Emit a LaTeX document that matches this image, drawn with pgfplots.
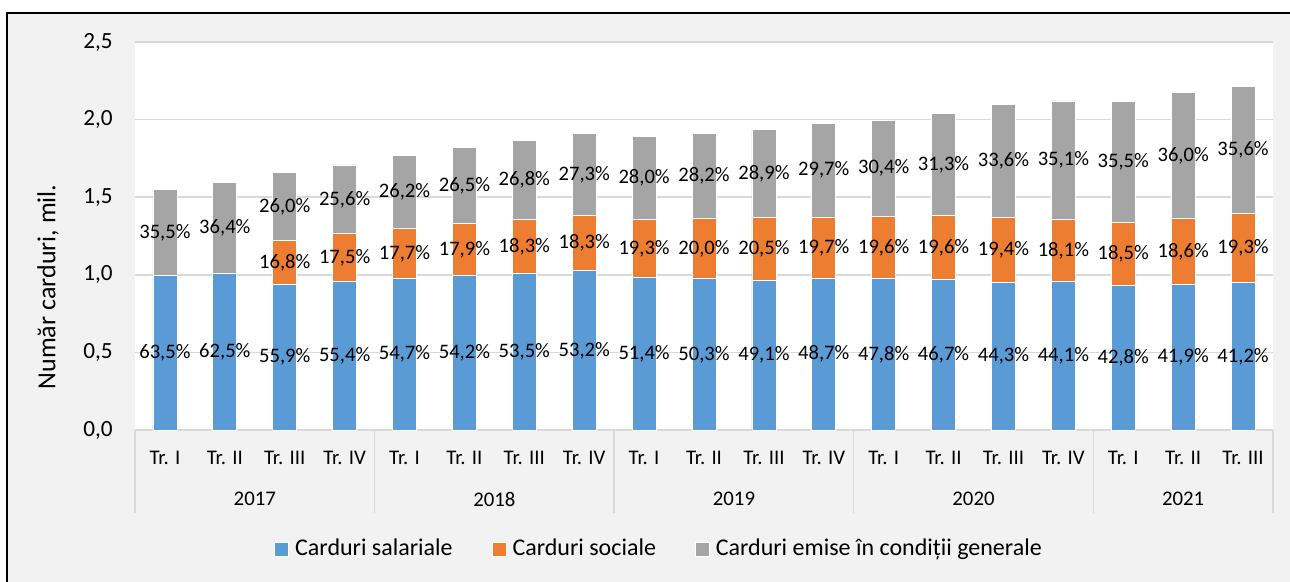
\documentclass[border=0pt]{standalone}
\usepackage{fontspec}
\setmainfont{Carlito}
\usepackage{pgfplots}
\usepackage{pgfplotstable}
\pgfplotsset{compat=1.18}

\definecolor{cblue}{HTML}{5B9BD5}
\definecolor{corange}{HTML}{ED7D31}
\definecolor{cgray}{HTML}{A5A5A5}
\definecolor{gridc}{HTML}{D9D9D9}
\definecolor{chartbg}{HTML}{F2F2F2}

% segment heights (mil. carduri) and shares
\pgfplotstableread{
x b o g lb lo lg
0 0.996 0.000 0.555 63,5\% {} 35,5\%
1 1.008 0.000 0.588 62,5\% {} 36,4\%
2 0.940 0.281 0.437 55,9\% 16,8\% 26,0\%
3 0.959 0.305 0.444 55,4\% 17,5\% 25,6\%
4 0.979 0.319 0.472 54,7\% 17,7\% 26,2\%
5 0.998 0.332 0.489 54,2\% 17,9\% 26,5\%
6 1.008 0.348 0.511 53,5\% 18,3\% 26,8\%
7 1.026 0.356 0.530 53,2\% 18,3\% 27,3\%
8 0.983 0.371 0.540 51,4\% 19,3\% 28,0\%
9 0.974 0.388 0.550 50,3\% 20,0\% 28,2\%
10 0.963 0.404 0.570 49,1\% 20,5\% 28,9\%
11 0.976 0.397 0.601 48,7\% 19,7\% 29,7\%
12 0.974 0.404 0.619 47,8\% 19,6\% 30,4\%
13 0.970 0.412 0.656 46,7\% 19,6\% 31,3\%
14 0.951 0.420 0.725 44,3\% 19,4\% 33,6\%
15 0.959 0.397 0.764 44,1\% 18,1\% 35,1\%
16 0.934 0.403 0.778 42,8\% 18,5\% 35,5\%
17 0.940 0.422 0.811 41,9\% 18,6\% 36,0\%
18 0.949 0.445 0.822 41,2\% 19,3\% 35,6\%
}\cards

\pgfplotsset{
  sq/.style={legend image code/.code={\fill[##1] (0pt,-3.5pt) rectangle (7pt,3.5pt);}},
  frame/.style={scale only axis, width=569pt, height=194pt,
    xmin=-0.5, xmax=18.5, ymin=0, ymax=2.5, enlarge x limits=false},
}

\begin{document}
\begin{tikzpicture}
\path[use as bounding box] (-67.5pt,-76pt) rectangle (577.5pt,215pt);
\fill[white] (-67.5pt,-76pt) rectangle (577.5pt,215pt);
\fill[chartbg] (-63.75pt,-76pt) rectangle (577.5pt,208.5pt);
\fill[white] (0,0) rectangle (569pt,194pt);
\draw[line width=1pt] (-63.75pt,-80pt) -- (-63.75pt,208.5pt) -- (580pt,208.5pt);

\begin{axis}[frame, clip=false,
  ybar stacked, bar width=12pt,
  axis line style={draw=none},
  ytick={0,0.5,1,1.5,2,2.5},
  yticklabel={\pgfmathprintnumber[fixed,fixed zerofill,precision=1,use comma,assume math mode=true]{\tick}},
  yticklabel style={font=\fontsize{11.6}{13}\selectfont, anchor=east, inner sep=0pt, xshift=-11pt},
  ymajorgrids, grid style={draw=gridc, line width=0.75pt},
  major tick length=0pt,
  xtick pos=bottom, ytick pos=left,
  xtick={0,...,18},
  xticklabels={Tr. I,Tr. II,Tr. III,Tr. IV,Tr. I,Tr. II,Tr. III,Tr. IV,Tr. I,Tr. II,Tr. III,Tr. IV,Tr. I,Tr. II,Tr. III,Tr. IV,Tr. I,Tr. II,Tr. III},
  xticklabel style={font=\fontsize{10.4}{12}\selectfont, anchor=center, yshift=-13.9pt},
  extra x ticks={-0.5,3.5,7.5,11.5,15.5,18.5},
  extra x tick labels={},
  extra x tick style={grid=none, major tick length=41.7pt, tick align=outside,
    tick style={draw=gridc, line width=0.75pt}},
  ylabel={Număr carduri, mil.},
  ylabel style={at={(axis description cs:-0.0765,0.3686)}, anchor=center, rotate=0,
    font=\fontsize{13}{15}\selectfont},
  legend columns=-1,
  legend style={at={(axis description cs:0.1221,-0.3067)}, anchor=west,
    draw=none, fill=none, inner sep=0pt,
    font=\fontsize{12}{14}\selectfont,
    nodes={inner sep=1.5pt, anchor=west},
    /tikz/every even column/.append style={column sep=18pt},
    /tikz/every odd column/.append style={column sep=1.5pt}},
]
\addplot[fill=cblue, draw=white, line width=0.4pt, sq] table[x=x, y=b]{\cards};
\addplot[fill=corange, draw=white, line width=0.4pt, sq] table[x=x, y=o]{\cards};
\addplot[fill=cgray, draw=white, line width=0.4pt, sq] table[x=x, y=g]{\cards};
\legend{Carduri salariale, Carduri sociale, Carduri emise în condiții generale}

\node[font=\fontsize{10.4}{12}\selectfont, yshift=-34.6pt] at (axis cs:1.5,0) {2017};
\node[font=\fontsize{10.4}{12}\selectfont, yshift=-34.6pt] at (axis cs:5.5,0) {2018};
\node[font=\fontsize{10.4}{12}\selectfont, yshift=-34.6pt] at (axis cs:9.5,0) {2019};
\node[font=\fontsize{10.4}{12}\selectfont, yshift=-34.6pt] at (axis cs:13.5,0) {2020};
\node[font=\fontsize{10.4}{12}\selectfont, yshift=-34.6pt] at (axis cs:17,0) {2021};
\end{axis}

% share labels, centred on each segment
\begin{axis}[frame, hide axis,
  nodes near coords, point meta=explicit symbolic,
  every node near coord/.append style={anchor=center, inner sep=0pt,
    font=\fontsize{10.3}{12}\selectfont, text=black},
]
\addplot[draw=none, mark=none] table[x=x, y expr=\thisrow{b}/2, meta=lb]{\cards};
\addplot[draw=none, mark=none] table[x=x, y expr=\thisrow{b}+\thisrow{o}/2, meta=lo]{\cards};
\addplot[draw=none, mark=none] table[x=x, y expr=\thisrow{b}+\thisrow{o}+\thisrow{g}/2, meta=lg]{\cards};
\end{axis}
\end{tikzpicture}
\end{document}
